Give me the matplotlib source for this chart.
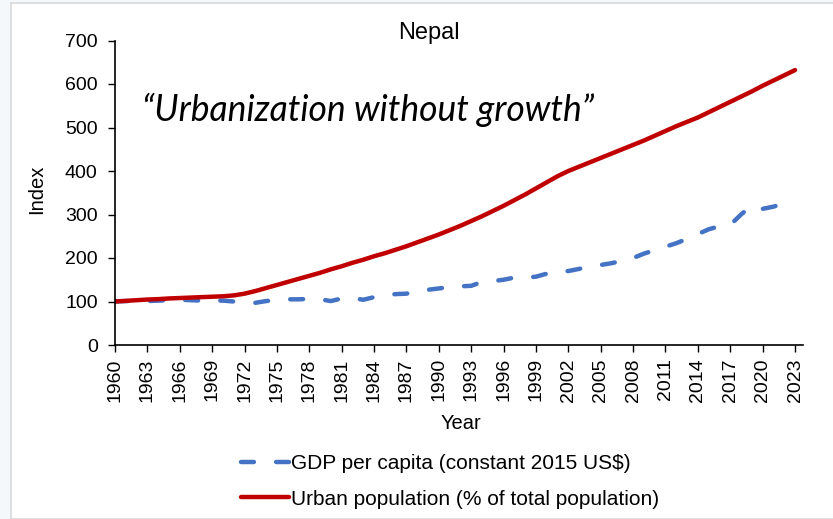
import matplotlib.pyplot as plt
import matplotlib.patches as mpatches

years = list(range(1960, 2024))

gdp_index = [100, 101, 101, 101, 102, 103, 104, 103, 102, 102,
             102, 100, 99, 97, 101, 104, 105, 105, 106, 105,
             101, 107, 108, 104, 110, 114, 117, 118, 124, 127,
             130, 133, 135, 136, 145, 147, 150, 155, 155, 157,
             164, 170, 170, 175, 180, 184, 188, 194, 200, 210,
             218, 226, 234, 244, 255, 266, 273, 276, 300, 321,
             313, 318, 326, 334]

urban_index = [100, 101.5, 103, 104.5, 105.5, 107, 108, 109, 110, 111,
               112, 114, 118, 124, 131, 138, 145, 152, 159, 166,
               174, 181, 189, 196, 204, 211, 219, 227, 236, 245,
               254, 264, 274, 285, 296, 308, 320, 333, 346, 360,
               374, 388, 400, 410, 420, 430, 440, 450, 460, 470,
               481, 492, 503, 513, 523, 535, 547, 559, 571, 583,
               596, 608, 620, 632]

xtick_years = list(range(1960, 2024, 3))
yticks = list(range(0, 701, 100))

plt.rcParams['font.family'] = ['Liberation Sans', 'DejaVu Sans']

W, H = 833, 519
fig = plt.figure(figsize=(W / 100, H / 100), dpi=100)
fig.patch.set_facecolor('#f4f8fb')
# white card with thin grey border, like the screenshot
card = mpatches.Rectangle((11 / W, 0), 1, 1 - 3 / H, transform=fig.transFigure,
                          facecolor='white', edgecolor='#d9d9d9', linewidth=1.2, zorder=-1)
fig.patches.append(card)

ax = fig.add_axes([115 / W, 1 - 345 / H, (803 - 115) / W, (345 - 40.5) / H])
ax.set_facecolor('none')

ax.plot(years, gdp_index, color='#4472c4', linewidth=3.2, linestyle=(0, (2.9, 5)),
        dash_capstyle='round', label='GDP per capita (constant 2015 US$)')
ax.plot(years, urban_index, color='#c00000', linewidth=3.2, solid_capstyle='round',
        label='Urban population (% of total population)')

ax.set_xlim(1960, 2023.74)
ax.set_ylim(0, 700)
ax.set_xticks(xtick_years)
ax.set_xticklabels([str(y) for y in xtick_years], rotation=90)
ax.set_yticks(yticks)
ax.tick_params(direction='out', length=5, width=1, labelsize=14, colors='black')
ax.tick_params(axis='y', pad=7.5)
ax.tick_params(axis='x', pad=4.5)
ax.spines['top'].set_visible(False)
ax.spines['right'].set_visible(False)
ax.spines['left'].set_linewidth(1.2)
ax.spines['bottom'].set_linewidth(1.2)

fig.text(429 / W, 1 - 39 / H, 'Nepal', fontsize=17, ha='center', va='baseline')
fig.text(461 / W, 1 - 429 / H, 'Year', fontsize=14.5, ha='center', va='baseline')
fig.text(37 / W, 1 - 189 / H, 'Index', fontsize=14.5, rotation=90, ha='center', va='center')

ax.text(1962.5, 515, '\u201cUrbanization without growth\u201d', fontsize=25.6,
        style='italic', family=['Lato', 'DejaVu Sans'], va='baseline')

fig.legend(loc='upper left', bbox_to_anchor=(241 / W, 1 - 454 / H), frameon=False,
           fontsize=15, handlelength=2.3, handletextpad=0.1, labelspacing=0.8,
           borderaxespad=0, borderpad=0)

plt.savefig('out.png', dpi=100)
